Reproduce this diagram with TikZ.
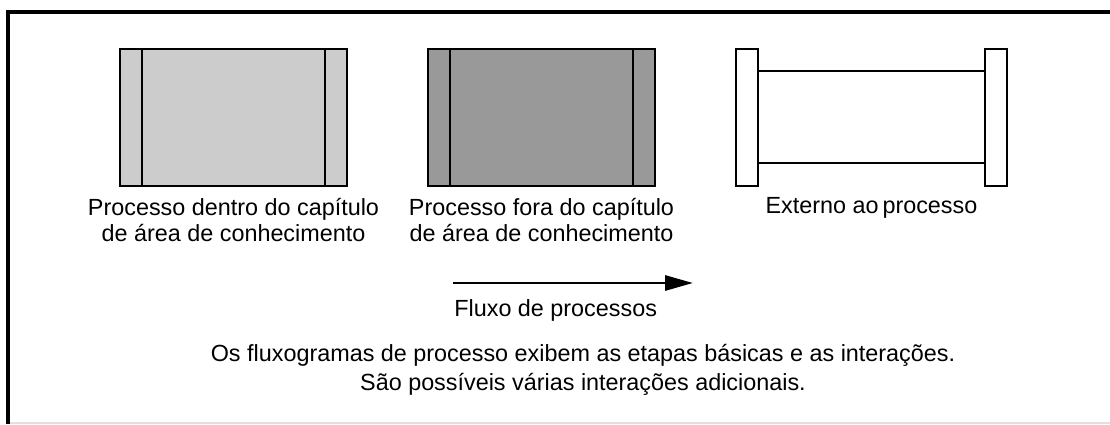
\documentclass[tikz,border=0pt]{standalone}
\usepackage{fontspec}
\setmainfont{Liberation Sans}
\usetikzlibrary{positioning,arrows.meta}

\begin{document}
\begin{tikzpicture}[
                procbox/.style={draw=black, line width=1.1pt, minimum width=4.54cm, minimum height=2.74cm, inner sep=0pt},
                capbox/.style={draw=black, line width=1.1pt, fill=white, minimum width=0.44cm, minimum height=2.74cm, inner sep=0pt},
                legenda/.style={align=center, font=\fontsize{13.3}{15}\selectfont, inner sep=0pt}
            ]
                \def\faixa{0.46}
                \useasboundingbox (0,0) rectangle (22.2,8.48);
                \draw[line width=0.08cm] (0.16,0) -- (0.16,8.24) -- (22.2,8.24);
                \draw[black!12, line width=0.6pt] (0.2,0.02) -- (22.2,0.02);
                \node[procbox, fill=black!20] (dentro) at (4.67,6.13) {};
                \node[procbox, fill=black!40] (fora) at (10.83,6.13) {};
                \foreach \caixa in {dentro,fora} {
                    \draw[line width=1.1pt] ([xshift=\faixa cm]\caixa.north west) -- ([xshift=\faixa cm]\caixa.south west);
                    \draw[line width=1.1pt] ([xshift=-\faixa cm]\caixa.north east) -- ([xshift=-\faixa cm]\caixa.south east);
                }
                \node[capbox] (extA) at (14.94,6.13) {};
                \node[capbox] (extB) at (19.92,6.13) {};
                \draw[line width=1.1pt] ([yshift=-0.46cm]extA.north east) -- ([yshift=-0.46cm]extB.north west);
                \draw[line width=1.1pt] ([yshift=0.48cm]extA.south east) -- ([yshift=0.48cm]extB.south west);
                \node[legenda, below=0.22cm of dentro] (txtdentro) {Processo dentro do capítulo\\de área de conhecimento};
                \node[legenda, below=0.22cm of fora] (txtfora) {Processo fora do capítulo\\de área de conhecimento};
                \node[legenda] (txtext) at (17.43,4.32) {Externo ao\,processo};
                \coordinate (fluxoA) at (9.06,2.82);
                \coordinate (fluxoB) at (13.86,2.82);
                \draw[line width=1.7pt, -{Triangle[length=0.56cm, width=0.3cm]}] (fluxoA) -- (fluxoB);
                \node[legenda, anchor=west] (txtfluxo) at (9.08,2.28) {Fluxo de processos};
                \node[legenda, font=\fontsize{13.3}{16.5}\selectfont] (nota) at (11.66,1.08) {Os fluxogramas de processo exibem as etapas básicas e as interações.\\São possíveis várias interações adicionais.};
            \end{tikzpicture}
\end{document}
